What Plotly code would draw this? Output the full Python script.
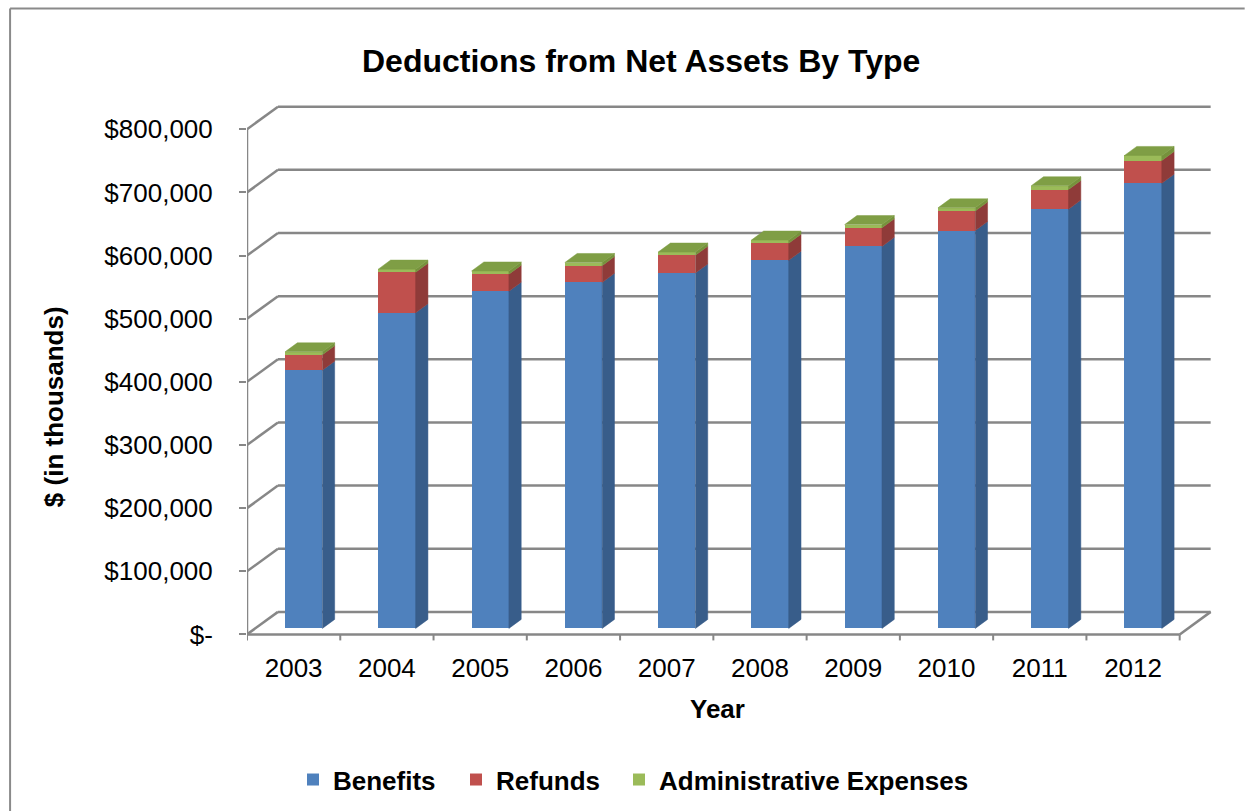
import plotly.graph_objects as go

# ---- data ($ in thousands) ----
years = ["2003", "2004", "2005", "2006", "2007", "2008", "2009", "2010", "2011", "2012"]
benefits = [409000, 500000, 534000, 548000, 563000, 583000, 605000, 630000, 664000, 705000]
refunds = [24500, 64000, 27000, 26500, 28000, 27000, 29500, 31000, 31000, 36000]
admin = [4500, 5000, 5000, 5000, 5000, 5000, 5000, 5000, 6000, 8000]

y_ticks = [0, 100000, 200000, 300000, 400000, 500000, 600000, 700000, 800000]
y_tick_labels = ["$-", "$100,000", "$200,000", "$300,000", "$400,000",
                 "$500,000", "$600,000", "$700,000", "$800,000"]

# ---- oblique 3-D projection, expressed in axis units ----
WALL_DX = 0.332      # back wall shift along x (category units)
WALL_DY = 35700      # back wall shift along y (value units)
BAR_W = 0.40         # width of a column's front face
BAR_SHIFT = 0.108    # front face centre offset from the category centre
BAR_DX = 0.132       # column depth along x
BAR_DY = 14300       # column depth along y
BAR_BASE = 9500      # columns stand mid-way into the floor
X_TICK_LEN = 9500

# ---- page geometry ----
W, H = 1245, 811
ML, MR, MT, MB = 247, 27.68, 104.3, 169.43
PLOT_W = W - ML - MR
PLOT_H = H - MT - MB


def px(x):
    return (x - ML) / PLOT_W


def py(y):
    return (H - MB - y) / PLOT_H


FONT = "Liberation Sans, Arial, sans-serif"
GRID = "#878787"

series = [
    ("Benefits", benefits, "#4F81BD", "#385D8A", 118),
    ("Refunds", refunds, "#C0504D", "#8F3B39", 118),
    ("Administrative Expenses", admin, "#9BBB59", "#76923C", 330),
]
ADMIN_TOP = "#7F9E45"

fig = go.Figure()

idx = list(range(len(years)))
cum = [BAR_BASE] * len(years)
for name, vals, front, side, lw in series:
    base = cum[:]
    top = [b + v for b, v in zip(base, vals)]
    fig.add_trace(go.Bar(
        x=[i + BAR_SHIFT for i in idx], y=vals, base=base, width=BAR_W,
        name=name, legendwidth=lw, marker=dict(color=front, line=dict(width=0)),
    ))
    xs, ys = [], []
    for i, (b, t) in enumerate(zip(base, top)):
        xr = i + BAR_SHIFT + BAR_W / 2
        xs += [xr, xr + BAR_DX, xr + BAR_DX, xr, xr, None]
        ys += [b, b + BAR_DY, t + BAR_DY, t, b, None]
    fig.add_trace(go.Scatter(
        x=xs, y=ys, mode="lines", fill="toself", fillcolor=side,
        line=dict(width=0.5, color=side), showlegend=False, hoverinfo="skip",
    ))
    cum = top

# top face of each column
xs, ys = [], []
for i, t in enumerate(cum):
    xl = i + BAR_SHIFT - BAR_W / 2
    xr = i + BAR_SHIFT + BAR_W / 2
    xs += [xl, xl + BAR_DX, xr + BAR_DX, xr, xl, None]
    ys += [t, t + BAR_DY, t + BAR_DY, t, t, None]
fig.add_trace(go.Scatter(
    x=xs, y=ys, mode="lines", fill="toself", fillcolor=ADMIN_TOP,
    line=dict(width=0.5, color=ADMIN_TOP), showlegend=False, hoverinfo="skip",
))

# ---- walls, floor and axis lines ----
shapes = []
x_left = -0.5
x_right = len(years) - 0.5
line = dict(color=GRID, width=2.5)
for v in y_ticks:
    shapes.append(dict(type="line", xref="x", yref="y", layer="below",
                       x0=x_left + WALL_DX, x1=x_right + WALL_DX,
                       y0=v + WALL_DY, y1=v + WALL_DY, line=line))
    shapes.append(dict(type="line", xref="x", yref="y", layer="below",
                       x0=x_left, x1=x_left + WALL_DX,
                       y0=v, y1=v + WALL_DY, line=line))
# front floor edge and right floor edge
shapes.append(dict(type="line", xref="x", yref="y", layer="below",
                   x0=x_left, x1=x_right, y0=0, y1=0, line=line))
shapes.append(dict(type="line", xref="x", yref="y", layer="below",
                   x0=x_right, x1=x_right + WALL_DX, y0=0, y1=WALL_DY, line=line))
# vertical value axis
shapes.append(dict(type="line", xref="x", yref="y", layer="below",
                   x0=x_left, x1=x_left, y0=0, y1=y_ticks[-1], line=line))
# category tick marks on the floor edge
for k in range(len(years) + 1):
    shapes.append(dict(type="line", xref="x", yref="y", layer="below",
                       x0=k - 0.5, x1=k - 0.5, y0=0, y1=-X_TICK_LEN,
                       line=dict(color=GRID, width=2)))
# chart frame (left and top edges; the rest runs off the page)
frame = dict(color="#8A8A8A", width=2)
shapes.append(dict(type="line", xref="paper", yref="paper",
                   x0=px(10), x1=px(W), y0=py(9), y1=py(9), line=frame))
shapes.append(dict(type="line", xref="paper", yref="paper",
                   x0=px(10), x1=px(10), y0=py(9), y1=py(H), line=frame))

annotations = [
    dict(text="<b>Deductions from Net Assets By Type</b>", x=px(641), y=py(61),
         xref="paper", yref="paper", showarrow=False, xanchor="center", yanchor="middle",
         font=dict(family=FONT, size=32, color="black")),
    dict(text="<b>$ (in thousands)</b>", x=px(54), y=py(407), textangle=-90,
         xref="paper", yref="paper", showarrow=False, xanchor="center", yanchor="middle",
         font=dict(family=FONT, size=26, color="black")),
    dict(text="<b>Year</b>", x=px(718), y=py(708),
         xref="paper", yref="paper", showarrow=False, xanchor="center", yanchor="middle",
         font=dict(family=FONT, size=26, color="black")),
]

fig.update_layout(
    width=W, height=H,
    margin=dict(l=ML, r=MR, t=MT, b=MB, autoexpand=False),
    paper_bgcolor="white", plot_bgcolor="white",
    barmode="overlay", bargap=0,
    shapes=shapes, annotations=annotations,
    showlegend=True,
    legend=dict(orientation="h", x=px(293), xanchor="left", y=py(779), yanchor="middle",
                traceorder="normal",
                font=dict(family=FONT, size=26, color="black", weight="bold"),
                bgcolor="rgba(0,0,0,0)"),
    xaxis=dict(range=[x_left, 9.9], tickmode="array", tickvals=idx, ticktext=years,
               ticks="", showgrid=False, zeroline=False, showline=False,
               ticklabelstandoff=8,
               tickfont=dict(family=FONT, size=26, color="black"), fixedrange=True),
    yaxis=dict(range=[-12000, 840000], tickmode="array", tickvals=y_ticks,
               ticktext=y_tick_labels, ticks="outside", ticklen=7, tickwidth=2,
               tickcolor=GRID, showgrid=False, zeroline=False, showline=False,
               ticklabelstandoff=21,
               tickfont=dict(family=FONT, size=26, color="black"), fixedrange=True),
)

# keep the fixed-size figure free of page scrollbars
fig.write_html(
    "out.html",
    post_script="document.documentElement.style.overflow='hidden';"
                "document.body.style.margin='0';",
)
